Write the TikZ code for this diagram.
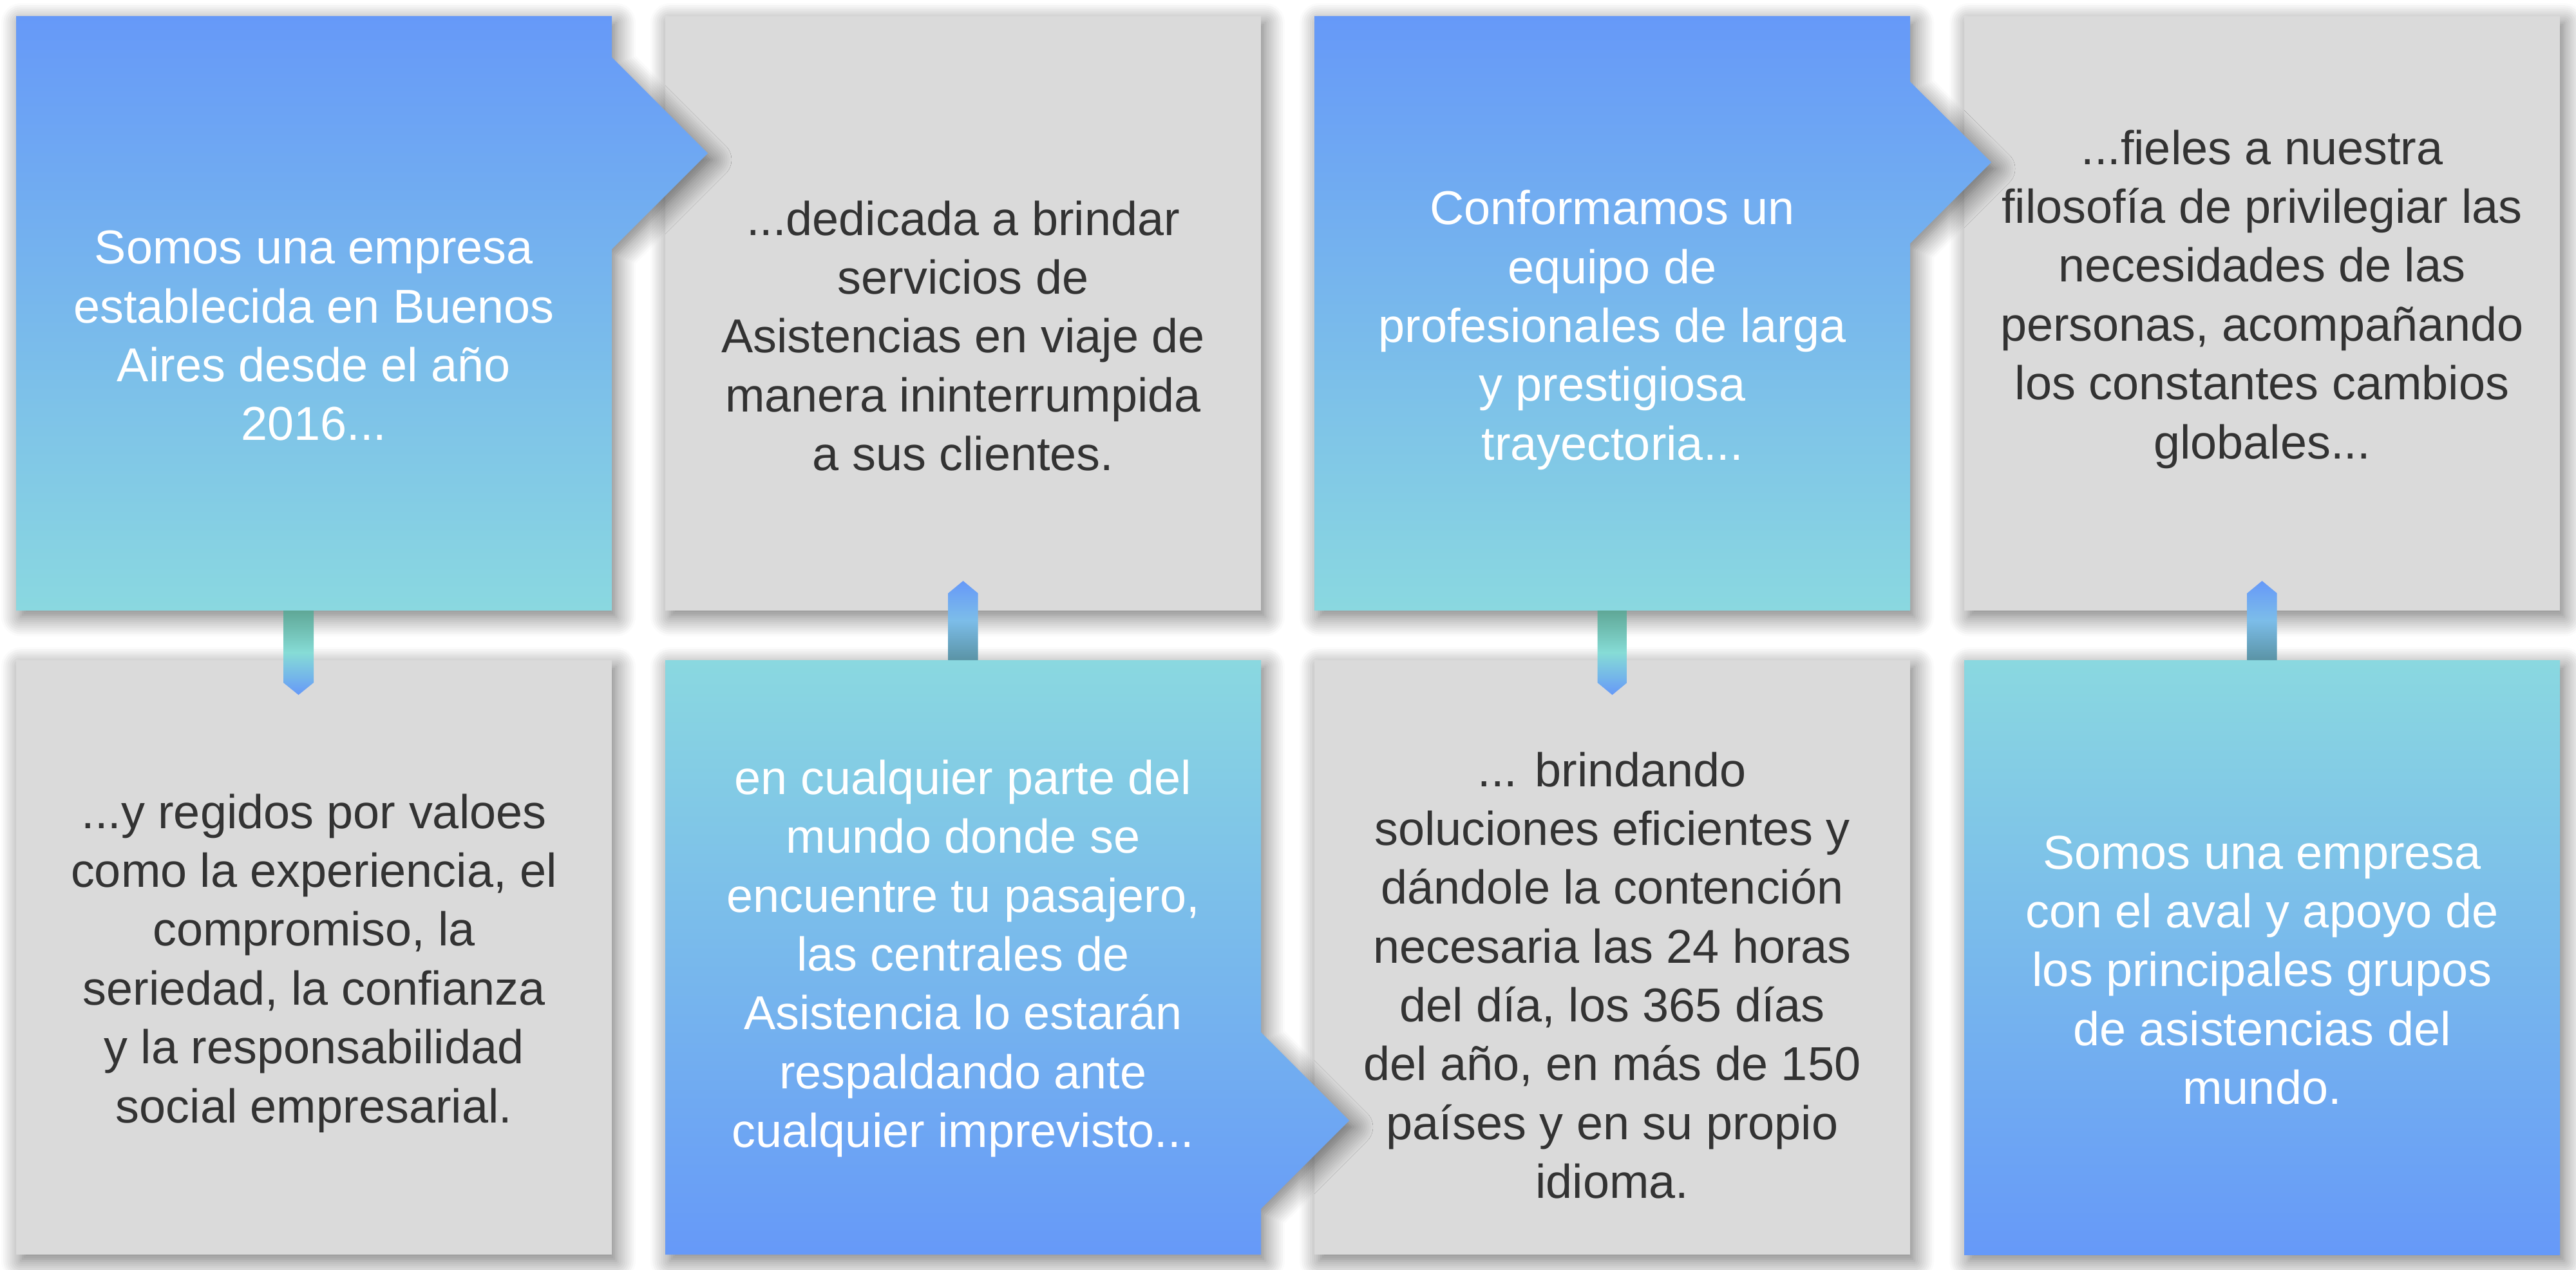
\documentclass[tikz,border=0pt]{standalone}
\usepackage{fontspec}
\setmainfont{Liberation Sans}
\usetikzlibrary{positioning,calc,shadows.blur}
\definecolor{sky}{HTML}{6699F8}
\definecolor{aqua}{HTML}{8AD8E0}
\definecolor{panel}{HTML}{DADADA}
\definecolor{ink}{HTML}{333333}
\definecolor{mint}{HTML}{5FA796}
\definecolor{mintlight}{HTML}{86DCD6}
\definecolor{dusk}{HTML}{5A93A5}
\definecolor{skylight}{HTML}{7CBDE9}
\tikzset{
  box/.style={
    minimum width=9.25cm,
    minimum height=9.23cm,
    inner sep=0pt,
    outer sep=0pt
  },
  soft/.style={
    blur shadow={shadow xshift=0.07cm, shadow yshift=-0.1cm,
      shadow blur radius=0.3cm, shadow blur steps=10, shadow opacity=55}
  },
  plain/.style={box, fill=panel, soft},
  fallbox/.style={top color=sky, bottom color=aqua, soft},
  risebox/.style={top color=aqua, bottom color=sky, soft},
  words/.style={
    align=center,
    text=ink,
    font=\fontsize{21}{26}\selectfont
  },
  bright/.style={words, text=white},
  linkdown/.style={top color=mint, bottom color=sky, middle color=mintlight},
  linkup/.style={top color=sky, bottom color=dusk, middle color=skylight}
}

\begin{document}
\begin{tikzpicture}
  \useasboundingbox (0,0) rectangle (40,-19.72);

  % panels
  \node[box] (b1) at (4.875,-4.865) {};
  \node[plain, right=0.83cm of b1] (b2) {};
  \node[box, right=0.83cm of b2] (b3) {};
  \node[plain, right=0.84cm of b3] (b4) {};
  \node[plain, below=0.77cm of b1] (b5) {};
  \node[box, below=0.77cm of b2] (b6) {};
  \node[plain, below=0.77cm of b3] (b7) {};
  \node[box, risebox, below=0.77cm of b4] (b8) {};

  % coloured panels with pointers
  \path[fallbox] (b1.north west) -- (b1.north east)
    -- ([yshift=-0.64cm]b1.north east)
    -- ([xshift=1.49cm, yshift=-2.13cm]b1.north east)
    -- ([yshift=-3.62cm]b1.north east)
    -- (b1.south east) -- (b1.south west) -- cycle;
  \path[fallbox] (b3.north west) -- (b3.north east)
    -- ([yshift=-1.02cm]b3.north east)
    -- ([xshift=1.26cm, yshift=-2.27cm]b3.north east)
    -- ([yshift=-3.53cm]b3.north east)
    -- (b3.south east) -- (b3.south west) -- cycle;
  \path[risebox] (b6.north west) -- (b6.north east)
    -- ([yshift=-5.78cm]b6.north east)
    -- ([xshift=1.37cm, yshift=-7.15cm]b6.north east)
    -- ([yshift=-8.52cm]b6.north east)
    -- (b6.south east) -- (b6.south west) -- cycle;

  % links between the rows
  \path[linkdown] ([xshift=-0.475cm]b1.south) -- ([xshift=-0.005cm]b1.south)
    -- ([xshift=-0.005cm, yshift=-0.35cm]b5.north)
    -- ([xshift=-0.24cm, yshift=-0.54cm]b5.north)
    -- ([xshift=-0.475cm, yshift=-0.35cm]b5.north) -- cycle;
  \path[linkup] ([xshift=-0.23cm]b6.north) -- ([xshift=0.23cm]b6.north)
    -- ([xshift=0.23cm, yshift=0.27cm]b2.south)
    -- ([yshift=0.46cm]b2.south)
    -- ([xshift=-0.23cm, yshift=0.27cm]b2.south) -- cycle;
  \path[linkdown] ([xshift=-0.23cm]b3.south) -- ([xshift=0.23cm]b3.south)
    -- ([xshift=0.23cm, yshift=-0.35cm]b7.north)
    -- ([yshift=-0.54cm]b7.north)
    -- ([xshift=-0.23cm, yshift=-0.35cm]b7.north) -- cycle;
  \path[linkup] ([xshift=-0.23cm]b8.north) -- ([xshift=0.23cm]b8.north)
    -- ([xshift=0.23cm, yshift=0.27cm]b4.south)
    -- ([yshift=0.46cm]b4.south)
    -- ([xshift=-0.23cm, yshift=0.27cm]b4.south) -- cycle;

  % texts
  \node[bright] (t1) at ([yshift=-0.35cm]b1.center)
    {Somos una empresa\\establecida en Buenos\\Aires desde el año\\2016...};
  \node[words] (t2) at ([yshift=-0.35cm]b2.center)
    {...dedicada a brindar\\servicios de\\Asistencias en viaje de\\manera ininterrumpida\\a sus clientes.};
  \node[bright] (t3) at ([yshift=-0.26cm]b3.center)
    {Conformamos un\\equipo de\\profesionales de larga\\y prestigiosa\\trayectoria...};
  \node[words] (t4) at ([yshift=0.22cm]b4.center)
    {...fieles a nuestra\\filosofía de privilegiar las\\necesidades de las\\personas, acompañando\\los constantes cambios\\globales...};
  \node[words] (t5) at ([yshift=-0.09cm]b5.center)
    {...y regidos por valoes\\como la experiencia, el\\compromiso, la\\seriedad, la confianza\\y la responsabilidad\\social empresarial.};
  \node[bright] (t6) at ([yshift=-0.02cm]b6.center)
    {en cualquier parte del\\mundo donde se\\encuentre tu pasajero,\\las centrales de\\Asistencia lo estarán\\respaldando ante\\cualquier imprevisto...};
  \node[words] (t7) at ([yshift=-0.28cm]b7.center)
    {... brindando\\soluciones eficientes y\\dándole la contención\\necesaria las 24 horas\\del día, los 365 días\\del año, en más de 150\\países y en su propio\\idioma.};
  \node[bright] (t8) at ([yshift=-0.2cm]b8.center)
    {Somos una empresa\\con el aval y apoyo de\\los principales grupos\\de asistencias del\\mundo.};
\end{tikzpicture}
\end{document}
